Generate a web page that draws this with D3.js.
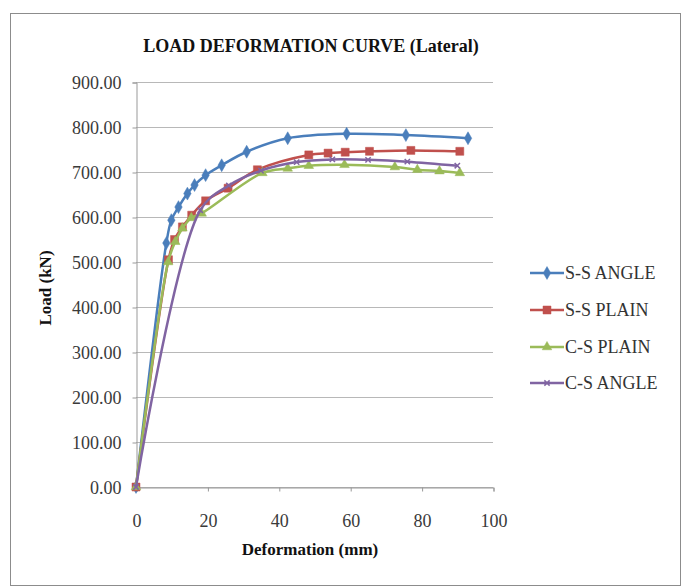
<!DOCTYPE html>
<html lang="en">
<head>
<meta charset="UTF-8">
<script src="https://cdn.jsdelivr.net/npm/d3@7"></script>
<title>Load Deformation Curve</title>
<style>
    body { margin: 0; background: #fff; }
    svg text { font-family: 'Liberation Serif', 'Times New Roman', Times, serif; }
</style>
</head>
<body>
<div id="chart"></div>
<script>
    // values
    const seriesNames = ["S-S ANGLE", "S-S PLAIN", "C-S PLAIN", "C-S ANGLE"];
    const seriesColors = ["#4A7EBB", "#C0504D", "#9BBB59", "#8064A2"];

    const ssAngleX = [0, 8.5, 9.9, 11.9, 14.4, 16.4, 19.5, 24, 31, 42.5, 59, 75.6, 93];
    const ssAngleY = [0, 542, 593, 622, 652, 671, 693, 715, 745, 775, 785, 782, 775];

    const ssPlainX = [0, 9.1, 10.8, 13, 15.6, 19.5, 25.8, 34, 48.4, 53.8, 58.6, 65.4, 77, 90.7];
    const ssPlainY = [0, 505, 550, 578, 604, 636, 664, 705, 738, 742, 744, 746, 748, 746];

    const csPlainX = [0, 9, 11, 13, 15.5, 18.4, 35.4, 42.5, 48.4, 58.4, 72.5, 78.8, 85, 90.7];
    const csPlainY = [0, 500, 545, 575, 598, 608, 698, 708, 714, 716, 711, 705, 702, 698];

    const csAngleX = [0, 18, 26, 35, 45, 55, 65, 76, 90];
    const csAngleY = [0, 615, 670, 703, 722, 728, 727, 723, 714];

    const xTicks = [0, 20, 40, 60, 80, 100];
    const yTicks = [0, 100, 200, 300, 400, 500, 600, 700, 800, 900];

    const series = [
        { name: seriesNames[0], xs: ssAngleX, ys: ssAngleY, marker: "diamond" },
        { name: seriesNames[1], xs: ssPlainX, ys: ssPlainY, marker: "square" },
        { name: seriesNames[2], xs: csPlainX, ys: csPlainY, marker: "triangle" },
        { name: seriesNames[3], xs: csAngleX, ys: csAngleY, marker: "cross" }
    ].map((s, i) => ({
        ...s,
        color: seriesColors[i],
        points: s.xs.map((x, j) => ({ x, y: s.ys[j] }))
    }));

    const width = 683, height = 588;
    const plot = { left: 136, right: 493, top: 82, bottom: 487 };

    const svg = d3.select("#chart").append("svg")
        .attr("width", width)
        .attr("height", height);

    // chart frame
    svg.append("rect")
        .attr("x", 10.5).attr("y", 13.5)
        .attr("width", 670).attr("height", 572)
        .attr("fill", "#fff")
        .attr("stroke", "#8c8c8c")
        .attr("stroke-width", 1);

    const x = d3.scaleLinear().domain([0, 100]).range([plot.left, plot.right]);
    const y = d3.scaleLinear().domain([0, 900]).range([plot.bottom, plot.top]);

    // gridlines
    svg.append("g")
        .selectAll("line")
        .data(yTicks)
        .join("line")
        .attr("x1", plot.left).attr("x2", plot.right)
        .attr("y1", d => Math.round(y(d)) + 0.5)
        .attr("y2", d => Math.round(y(d)) + 0.5)
        .attr("stroke", "#b8b8b8");

    // y axis
    const yAxis = svg.append("g")
        .attr("transform", `translate(${plot.left + 0.5},0.5)`)
        .call(d3.axisLeft(y).tickValues(yTicks).tickFormat(d3.format(".2f")).tickSize(4).tickPadding(11))
        .attr("font-family", null)
        .attr("font-size", null);
    yAxis.select(".domain").attr("stroke", "#999");
    yAxis.selectAll(".tick line").attr("stroke", "#999");
    yAxis.selectAll("text").attr("fill", "#3a3a3a").style("font-size", "18px");

    // x axis
    const xAxis = svg.append("g")
        .attr("transform", `translate(0.5,${plot.bottom + 0.5})`)
        .call(d3.axisBottom(x).tickValues(xTicks).tickSize(4).tickPadding(30))
        .attr("font-family", null)
        .attr("font-size", null);
    xAxis.select(".domain").attr("stroke", "#999");
    xAxis.selectAll(".tick line").attr("stroke", "#999");
    xAxis.selectAll("text").attr("fill", "#3a3a3a").attr("dy", "0.3em").style("font-size", "18px");

    // titles
    svg.append("text")
        .attr("x", 311).attr("y", 52)
        .attr("text-anchor", "middle")
        .style("font-size", "18px")
        .style("font-weight", "bold")
        .attr("fill", "#111")
        .text("LOAD DEFORMATION CURVE (Lateral)");

    svg.append("text")
        .attr("x", 310).attr("y", 555)
        .attr("text-anchor", "middle")
        .style("font-size", "17px")
        .style("font-weight", "bold")
        .attr("fill", "#111")
        .text("Deformation (mm)");

    svg.append("text")
        .attr("transform", "translate(51,288) rotate(-90)")
        .attr("text-anchor", "middle")
        .style("font-size", "17px")
        .style("font-weight", "bold")
        .attr("fill", "#111")
        .text("Load (kN)");

    const line = d3.line()
        .x(d => x(d.x))
        .y(d => y(d.y))
        .curve(d3.curveCatmullRom.alpha(0.5));

    const symbolFor = {
        diamond: d3.symbol().type(d3.symbolDiamond).size(48),
        square: d3.symbol().type(d3.symbolSquare).size(64),
        triangle: d3.symbol().type(d3.symbolTriangle).size(40),
        cross: d3.symbol().type(d3.symbolX).size(20)
    };

    series.forEach(s => {
        svg.append("path")
            .datum(s.points)
            .attr("fill", "none")
            .attr("stroke", s.color)
            .attr("stroke-width", 2.5)
            .attr("d", line);

        svg.append("g")
            .selectAll("path")
            .data(s.points)
            .join("path")
            .attr("transform", d => `translate(${x(d.x)},${y(d.y)})`)
            .attr("d", symbolFor[s.marker])
            .attr("fill", s.marker === "cross" ? "none" : s.color)
            .attr("stroke", s.color)
            .attr("stroke-width", s.marker === "cross" ? 1.5 : 0.5);
    });

    // legend
    const legend = svg.append("g");
    const rowY = [273, 310, 347, 383];
    series.forEach((s, i) => {
        const g = legend.append("g").attr("transform", `translate(530,${rowY[i]})`);
        g.append("line")
            .attr("x1", 0).attr("x2", 34)
            .attr("stroke", s.color)
            .attr("stroke-width", 2.5);
        g.append("path")
            .attr("transform", "translate(17,0)")
            .attr("d", symbolFor[s.marker])
            .attr("fill", s.marker === "cross" ? "none" : s.color)
            .attr("stroke", s.color)
            .attr("stroke-width", s.marker === "cross" ? 1.5 : 0.5);
        g.append("text")
            .attr("x", 35).attr("y", 6)
            .style("font-size", "18px")
            .attr("fill", "#333")
            .text(s.name);
    });
</script>
</body>
</html>
